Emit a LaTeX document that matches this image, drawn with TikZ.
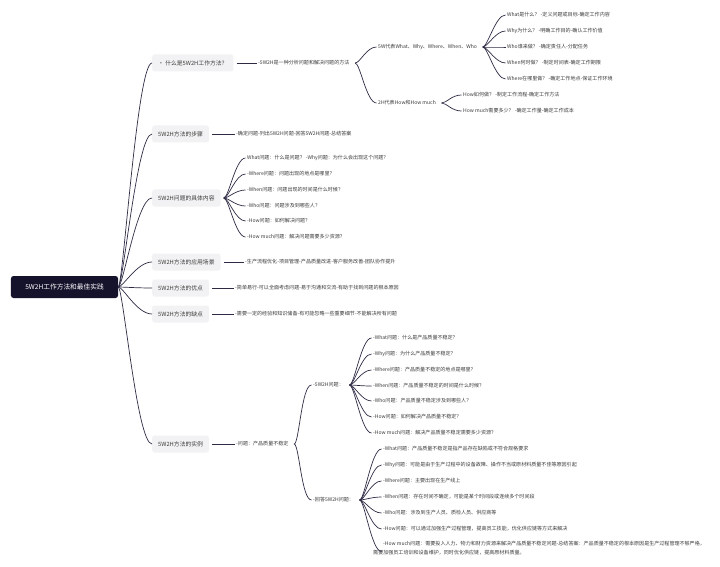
\documentclass[tikz,border=0pt]{standalone}
\usepackage{fontspec}
\setmainfont{Noto Sans CJK SC}
\definecolor{linec}{HTML}{2E2C45}
\definecolor{rootc}{HTML}{15122B}
\definecolor{boxc}{HTML}{F2F2F4}
\definecolor{txtc}{HTML}{3C3C3C}
\begin{document}
\begin{tikzpicture}[x=1bp,y=-1bp,
  conn/.style={draw=linec, line width=0.7bp},
  rootfan/.style={conn, to path={.. controls +(5,0) and +(-15,0) .. (\tikztotarget)}},
  fan/.style={conn, to path={.. controls +(5,0) and +(-10,0) .. (\tikztotarget)}},
  rootbox/.style={fill=rootc, rounded corners=2.5bp, text=white, font=\fontsize{6.7bp}{8bp}\selectfont, minimum height=22bp, minimum width=107bp, inner sep=0},
  topic/.style={fill=boxc, rounded corners=2.5bp, text=txtc, font=\fontsize{5.8bp}{7bp}\selectfont, minimum height=17bp, inner xsep=6bp, inner ysep=0, anchor=west},
  leaf/.style={text=txtc, font=\fontsize{5.05bp}{9bp}\selectfont, inner ysep=0, inner xsep=1.5bp, xshift=-1.5bp, anchor=west},
]
\useasboundingbox[fill=white] (0,0) rectangle (720,567);

% root
\node[rootbox] (root) at (64.5,287) {5W2H工作方法和最佳实践};

% level 1
\node[topic] (t1) at (152,63) {• 什么是5W2H工作方法？};
\node[topic] (t2) at (152,134) {5W2H方法的步骤};
\node[topic] (t3) at (152,198) {5W2H问题的具体内容};
\node[topic] (t4) at (152,262) {5W2H方法的应用场景};
\node[topic] (t5) at (152,288) {5W2H方法的优点};
\node[topic] (t6) at (152,314) {5W2H方法的缺点};
\node[topic] (t7) at (152,444) {5W2H方法的实例};

\foreach \t in {t1,t2,t3,t4,t5,t6,t7}
  \draw[rootfan] (root.east) to (\t.west);

% branch 1
\node[leaf] (a1) at (258,63) {-5W2H是一种分析问题和解决问题的方法};
\node[leaf] (a11) at (378,47) {5W代表What、Why、Where、When、Who};
\node[leaf] (a12) at (378,103) {2H代表How和How much};
\node[leaf] (a111) at (507,15) {What是什么？ -定义问题或目标-确定工作内容};
\node[leaf] (a112) at (507,31) {Why为什么？ -明确工作目的-确认工作价值};
\node[leaf] (a113) at (507,47) {Who谁来做？ -确定责任人-分配任务};
\node[leaf] (a114) at (507,63) {When何时做？ -制定时间表-确定工作期限};
\node[leaf] (a115) at (507,79) {Where在哪里做？ -确定工作地点-保证工作环境};
\node[leaf] (a121) at (463,95) {How如何做？ -制定工作流程-确定工作方法};
\node[leaf] (a122) at (463,111) {How much需要多少？ -确定工作量-确定工作成本};

\draw[conn] ([xshift=3bp]t1.east) -- (a1.west);
\foreach \c in {a11,a12} \draw[fan] ([xshift=4bp]a1.east) to (\c.west);
\foreach \c in {a111,a112,a113,a114,a115} \draw[fan] ([xshift=4bp]a11.east) to (\c.west);
\foreach \c in {a121,a122} \draw[fan] ([xshift=4bp]a12.east) to (\c.west);

% branch 2
\node[leaf] (b1) at (236,134) {-确定问题-列出5W2H问题-回答5W2H问题-总结答案};
\draw[conn] ([xshift=3bp]t2.east) -- (b1.west);

% branch 3
\node[leaf] (c1) at (247,158) {What问题：什么是问题？ -Why问题：为什么会出现这个问题？};
\node[leaf] (c2) at (247,174) {-Where问题：问题出现的地点是哪里？};
\node[leaf] (c3) at (247,190) {-When问题：问题出现的时间是什么时候？};
\node[leaf] (c4) at (247,206) {-Who问题：问题涉及到哪些人？};
\node[leaf] (c5) at (247,221) {-How问题：如何解决问题？};
\node[leaf] (c6) at (247,237) {-How much问题：解决问题需要多少资源？};
\foreach \c in {c1,c2,c3,c4,c5,c6} \draw[fan] ([xshift=3bp]t3.east) to (\c.west);

% branches 4-6
\node[leaf] (d1) at (245,262) {-生产流程优化-项目管理-产品质量改进-客户服务改善-团队协作提升};
\node[leaf] (e1) at (235,288) {-简单易行-可以全面考虑问题-易于沟通和交流-有助于找到问题的根本原因};
\node[leaf] (f1) at (235,314) {-需要一定的经验和知识储备-有可能忽略一些重要细节-不能解决所有问题};
\draw[conn] ([xshift=3bp]t4.east) -- (d1.west);
\draw[conn] ([xshift=3bp]t5.east) -- (e1.west);
\draw[conn] ([xshift=3bp]t6.east) -- (f1.west);

% branch 7
\node[leaf] (g1) at (236,444) {-问题：产品质量不稳定};
\node[leaf] (g11) at (313,385) {-5W2H问题：};
\node[leaf] (g12) at (313,500) {-回答5W2H问题：};
\draw[conn] ([xshift=3bp]t7.east) -- (g1.west);
\foreach \c in {g11,g12} \draw[fan] ([xshift=4bp]g1.east) to (\c.west);

\node[leaf] (g111) at (373,338) {-What问题：什么是产品质量不稳定？};
\node[leaf] (g112) at (373,354) {-Why问题：为什么产品质量不稳定？};
\node[leaf] (g113) at (373,370) {-Where问题：产品质量不稳定的地点是哪里？};
\node[leaf] (g114) at (373,386) {-When问题：产品质量不稳定的时间是什么时候？};
\node[leaf] (g115) at (373,401) {-Who问题：产品质量不稳定涉及到哪些人？};
\node[leaf] (g116) at (373,417) {-How问题：如何解决产品质量不稳定？};
\node[leaf] (g117) at (373,433) {-How much问题：解决产品质量不稳定需要多少资源？};
\foreach \c in {g111,g112,g113,g114,g115,g116,g117} \draw[fan] ([xshift=4bp]g11.east) to (\c.west);

\node[leaf] (g121) at (383,449) {-What问题：产品质量不稳定是指产品存在缺陷或不符合规格要求};
\node[leaf] (g122) at (383,465) {-Why问题：可能是由于生产过程中的设备故障、操作不当或原材料质量不佳等原因引起};
\node[leaf] (g123) at (383,481) {-Where问题：主要出现在生产线上};
\node[leaf] (g124) at (383,497) {-When问题：存在时间不确定，可能是某个时间段或连续多个时间段};
\node[leaf] (g125) at (383,513) {-Who问题：涉及到生产人员、质检人员、供应商等};
\node[leaf] (g126) at (383,529) {-How问题：可以通过加强生产过程管理，提高员工技能，优化供应链等方式来解决};
\node[leaf, align=left] (g127) at (373,548.5) {\hspace*{10bp}-How much问题：需要投入人力、物力和财力资源来解决产品质量不稳定问题-总结答案：产品质量不稳定的根本原因是生产过程管理不够严格，\\需要加强员工培训和设备维护，同时优化供应链，提高原材料质量。};
\foreach \c in {g121,g122,g123,g124,g125,g126} \draw[fan] ([xshift=4bp]g12.east) to (\c.west);
\draw[fan] ([xshift=4bp]g12.east) to ([xshift=10bp,yshift=-3bp]g127.west);
\end{tikzpicture}
\end{document}
